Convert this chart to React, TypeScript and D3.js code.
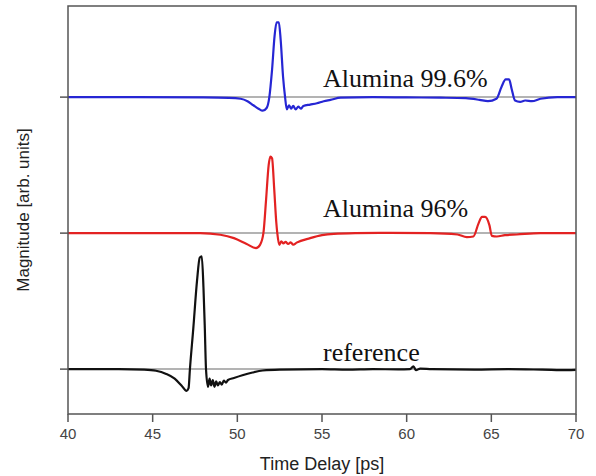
import React from "react";
import * as d3 from "d3";

// Time axis (ps)
const xTicks = [40, 45, 50, 55, 60, 65, 70];
// Vertical offsets of the three traces (arb. units)
const offsets = [2, 1, 0];
const traceNames = ["Alumina 99.6%", "Alumina 96%", "reference"];
const traceColors = ["#2626d4", "#e32222", "#111111"];

// Alumina 99.6% trace: [time ps, magnitude]
const alumina996: [number, number][] = [
  [40, 0], [44, 0], [48, -0.002], [49.5, -0.005], [50.2, -0.012], [50.6, -0.03],
  [50.95, -0.06], [51.25, -0.085], [51.5, -0.1], [51.73, -0.08], [51.89, 0],
  [52.05, 0.2], [52.2, 0.45], [52.32, 0.55], [52.45, 0.55], [52.56, 0.42],
  [52.7, 0.15], [52.82, 0], [52.92, -0.09], [53.05, -0.06], [53.18, -0.085],
  [53.3, -0.065], [53.45, -0.09], [53.6, -0.07], [53.75, -0.085], [53.9, -0.065],
  [54.3, -0.055], [54.7, -0.045], [55.1, -0.03], [55.5, -0.02], [56.1, -0.004],
  [58, 0], [60, -0.002], [62, -0.004], [63.5, -0.008], [64.3, -0.02],
  [64.8, -0.03], [65.3, -0.012], [65.6, 0.075], [65.85, 0.13], [66.05, 0.13],
  [66.2, 0.06], [66.4, -0.025], [66.7, -0.035], [67, -0.025], [67.4, -0.03],
  [67.9, -0.012], [68.9, 0], [70, 0],
];

// Alumina 96% trace
const alumina96: [number, number][] = [
  [40, 0], [46, 0], [47.8, 0], [49, -0.012], [49.8, -0.037], [50.55, -0.08],
  [51.1, -0.11], [51.34, -0.086], [51.54, 0], [51.7, 0.25], [51.85, 0.5],
  [51.95, 0.563], [52.05, 0.55], [52.18, 0.32], [52.3, 0.08], [52.36, 0],
  [52.48, -0.086], [52.6, -0.06], [52.72, -0.075], [52.85, -0.065],
  [53.0, -0.08], [53.15, -0.068], [53.3, -0.085], [53.5, -0.07], [54.3, -0.037],
  [55, -0.015], [55.7, -0.005], [57, 0], [59, 0.002], [61.4, 0], [63, -0.01],
  [63.55, -0.03], [63.94, -0.025], [64.24, 0.07], [64.45, 0.12], [64.63, 0.12],
  [64.89, 0.057], [65.03, -0.02], [65.32, -0.025], [65.8, -0.015],
  [66.5, -0.01], [67.9, 0], [70, 0],
];

// Reference trace
const referenceTrace: [number, number][] = [
  [40, 0], [43, 0], [44.5, -0.004], [45.2, -0.012], [45.8, -0.035],
  [46.3, -0.07], [46.7, -0.12], [47.0, -0.16], [47.12, -0.14], [47.2, 0],
  [47.4, 0.3], [47.62, 0.65], [47.78, 0.82], [47.9, 0.83], [48.0, 0.6],
  [48.08, 0.3], [48.15, 0], [48.27, -0.13], [48.36, -0.07], [48.45, -0.12],
  [48.55, -0.08], [48.65, -0.13], [48.75, -0.09], [48.85, -0.12],
  [48.97, -0.095], [49.08, -0.115], [49.2, -0.085], [49.33, -0.1],
  [49.45, -0.08], [49.8, -0.065], [50.3, -0.045], [50.9, -0.025],
  [51.5, -0.01], [52.5, -0.003], [55, 0], [56.5, -0.004], [58, 0],
  [59.5, -0.002], [60.2, 0], [60.4, 0.02], [60.55, -0.008], [60.8, 0.004],
  [61.5, 0], [64, -0.003], [66, 0], [68, -0.004], [69.5, -0.008], [70, -0.006],
];

const traces = [alumina996, alumina96, referenceTrace];

const W = 596;
const H = 476;
const plot = { left: 68, right: 576, top: 6, bottom: 414 };

export default function App() {
  const x = d3.scaleLinear().domain([40, 70]).range([plot.left, plot.right]);
  const y = d3.scaleLinear().domain([-0.33, 2.67]).range([plot.bottom, plot.top]);

  const line = d3
    .line<[number, number]>()
    .x((d) => x(d[0]))
    .y((d) => y(d[1]))
    .curve(d3.curveMonotoneX);

  const labelY = [y(2) - 10, y(1) - 16, y(0) - 8];

  return (
    <svg
      width={W}
      height={H}
      style={{ position: "absolute", left: 0, top: 0, background: "#fff" }}
      fontFamily="Liberation Sans, Arial, sans-serif"
    >
      {/* baselines */}
      {offsets.map((o) => (
        <line
          key={"b" + o}
          x1={plot.left}
          x2={plot.right}
          y1={y(o)}
          y2={y(o)}
          stroke="#9a9a9a"
          strokeWidth={1.5}
        />
      ))}
      {/* left ticks at each baseline */}
      {offsets.map((o) => (
        <line
          key={"t" + o}
          x1={plot.left - 8}
          x2={plot.left}
          y1={y(o)}
          y2={y(o)}
          stroke="#555"
          strokeWidth={1.5}
        />
      ))}
      {/* traces */}
      {traces.map((t, i) => (
        <path
          key={traceNames[i]}
          d={line(t.map(([tx, v]) => [tx, v + offsets[i]] as [number, number])) || ""}
          fill="none"
          stroke={traceColors[i]}
          strokeWidth={2.2}
          strokeLinejoin="round"
        />
      ))}
      {/* trace labels */}
      {traceNames.map((n, i) => (
        <text
          key={"l" + n}
          x={323}
          y={labelY[i]}
          fontFamily="Liberation Serif, Times New Roman, serif"
          fontSize={26}
          fill="#111"
        >
          {n}
        </text>
      ))}
      {/* frame */}
      <rect
        x={plot.left}
        y={plot.top}
        width={plot.right - plot.left}
        height={plot.bottom - plot.top}
        fill="none"
        stroke="#555"
        strokeWidth={1.5}
      />
      {/* x axis ticks */}
      {xTicks.map((t) => (
        <g key={"x" + t}>
          <line
            x1={x(t)}
            x2={x(t)}
            y1={plot.bottom}
            y2={plot.bottom + 8}
            stroke="#555"
            strokeWidth={1.5}
          />
          <text
            x={x(t)}
            y={439}
            textAnchor="middle"
            fontSize={15}
            fill="#444"
          >
            {t}
          </text>
        </g>
      ))}
      <text
        x={(plot.left + plot.right) / 2}
        y={470}
        textAnchor="middle"
        fontSize={18}
        fill="#222"
      >
        Time Delay [ps]
      </text>
      <text
        transform={`translate(29, ${(plot.top + plot.bottom) / 2}) rotate(-90)`}
        textAnchor="middle"
        fontSize={17}
        fill="#222"
      >
        Magnitude [arb. units]
      </text>
    </svg>
  );
}
